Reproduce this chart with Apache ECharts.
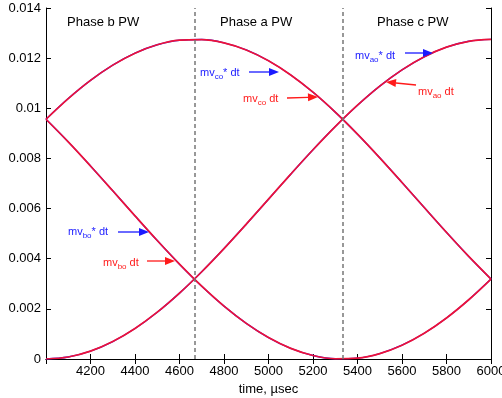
<!DOCTYPE html>
<html><head><meta charset="utf-8">
<script src="https://cdn.jsdelivr.net/npm/echarts@6/dist/echarts.min.js"></script>
<style>html,body{margin:0;padding:0;background:#fff}#c{width:502px;height:398px}</style>
</head><body><div id="c"></div>
<script>
// time, µsec
const times = [4000,4100,4200,4300,4400,4500,4600,4700,4800,4900,5000,5100,5200,5300,5400,5500,5600,5700,5800,5900,6000];
// integrated phase voltages
const mvAo = [0,0.0000785,0.000312,0.000695,0.001217,0.001867,0.002628,0.003481,0.004405,0.005378,0.006375,0.007372,0.008345,0.009269,0.010122,0.010883,0.011532,0.012055,0.012438,0.012672,0.01275];
const mvBo = [0.0095625,0.00866,0.0077,0.006709,0.005709,0.004725,0.003782,0.002903,0.002109,0.001421,0.000854,0.000423,0.000139,0.0000087,0.0000349,0.000217,0.000551,0.001028,0.001637,0.002363,0.0031875];
const mvCo = [0.0095625,0.010387,0.011113,0.011722,0.012199,0.012533,0.012715,0.012741,0.012611,0.012327,0.011896,0.011329,0.010641,0.009847,0.008968,0.008025,0.007041,0.006041,0.00505,0.00409,0.0031875];
const phaseBounds = [4666.7, 5333.3];
const phaseLabels = ['Phase b PW', 'Phase a PW', 'Phase c PW'];

const FONT = 'Liberation Sans, Arial, sans-serif';
const chart = echarts.init(document.getElementById('c'));

function pairs(arr){ return times.map((t,i)=>[t,arr[i]]); }

function lineSeries(name, arr, color, width, z, mark){
  const s = {name, type:'line', data:pairs(arr), showSymbol:false, symbol:'none', smooth:0.35,
    lineStyle:{color, width}, z, animation:false, silent:true};
  if (mark) {
    s.markLine = {silent:true, symbol:'none', label:{show:false},
      lineStyle:{color:'#777', width:1.5, type:[4,3]},
      data: phaseBounds.map(v=>({xAxis:v}))};
  }
  return s;
}

function ann(x, y, color, sub, star){
  return {type:'text', x, y, z:50, style:{
    text:'{n|mv}{s|' + sub + '}{n|' + (star ? '* dt' : ' dt') + '}',
    fill:color, font:'11px ' + FONT, textVerticalAlign:'middle',
    rich:{ n:{fontSize:11, fontFamily:FONT, fill:color, lineHeight:16},
           s:{fontSize:8, fontFamily:FONT, fill:color, lineHeight:8, verticalAlign:'bottom'} }
  }};
}

function arrow(x1,y1,x2,y2,color){
  const dx=x2-x1, dy=y2-y1, L=Math.hypot(dx,dy), ux=dx/L, uy=dy/L;
  const hl=10, hw=4;
  const bx=x2-ux*hl, by=y2-uy*hl;
  return [
    {type:'line', z:50, shape:{x1,y1,x2:bx,y2:by}, style:{stroke:color, lineWidth:1.3}},
    {type:'polygon', z:50, shape:{points:[[x2,y2],[bx-uy*hw,by+ux*hw],[bx+uy*hw,by-ux*hw]]}, style:{fill:color}}
  ];
}

const BLUE='#1a1aff', RED='#ff1a1a', CURVE_RED='#ee1238';
const graphics = [
  {type:'text', x:67, y:22, z:50, style:{text:phaseLabels[0], font:'13px '+FONT, fill:'#000', textVerticalAlign:'middle'}},
  {type:'text', x:220, y:22, z:50, style:{text:phaseLabels[1], font:'13px '+FONT, fill:'#000', textVerticalAlign:'middle'}},
  {type:'text', x:377, y:22, z:50, style:{text:phaseLabels[2], font:'13px '+FONT, fill:'#000', textVerticalAlign:'middle'}},
  ann(200,73,BLUE,'co',true), ...arrow(249,72,279,72,BLUE),
  ann(243,99,RED,'co',false), ...arrow(287,98,318,97,RED),
  ann(355,56,BLUE,'ao',true), ...arrow(405,53,433,53,BLUE),
  ann(418,92,RED,'ao',false), ...arrow(416,85,386,82,RED),
  ann(68,232,BLUE,'bo',true), ...arrow(118,232,149,232,BLUE),
  ann(103,263,RED,'bo',false), ...arrow(147,261,175,261,RED)
];

const axLine = {show:true, lineStyle:{color:'#000', width:1}};
const axTick = {show:true, inside:true, length:5, lineStyle:{color:'#000', width:1}};

chart.setOption({
  animation:false,
  grid:{left:46, right:11, top:8, bottom:39, containLabel:false, outerBoundsMode:'none'},
  xAxis:[
    {type:'value', min:4000, max:6000, interval:200, position:'bottom',
     axisLine:axLine, axisTick:axTick, splitLine:{show:false},
     axisLabel:{showMinLabel:false, fontSize:13, color:'#000', fontFamily:FONT, margin:6,
       formatter:v=>String(v)},
     name:'time, µsec', nameLocation:'middle', nameGap:24,
     nameTextStyle:{fontSize:13, color:'#000', fontFamily:FONT}},
    {type:'value', min:4000, max:6000, interval:200, position:'top',
     axisLine:axLine, axisTick:axTick, splitLine:{show:false}, axisLabel:{show:false}}
  ],
  yAxis:[
    {type:'value', min:0, max:0.014, interval:0.002, position:'left',
     axisLine:axLine, axisTick:axTick, splitLine:{show:false},
     axisLabel:{fontSize:13, color:'#000', fontFamily:FONT, margin:5}},
    {type:'value', min:0, max:0.014, interval:0.002, position:'right',
     axisLine:axLine, axisTick:axTick, splitLine:{show:false}, axisLabel:{show:false}}
  ],
  series:[
    lineSeries('mvao* dt', mvAo, BLUE, 1.4, 2, true),
    lineSeries('mvbo* dt', mvBo, BLUE, 1.4, 2, false),
    lineSeries('mvco* dt', mvCo, BLUE, 1.4, 2, false),
    lineSeries('mvao dt', mvAo, CURVE_RED, 1.7, 3, false),
    lineSeries('mvbo dt', mvBo, CURVE_RED, 1.7, 3, false),
    lineSeries('mvco dt', mvCo, CURVE_RED, 1.7, 3, false)
  ],
  graphic:graphics
});
</script></body></html>
